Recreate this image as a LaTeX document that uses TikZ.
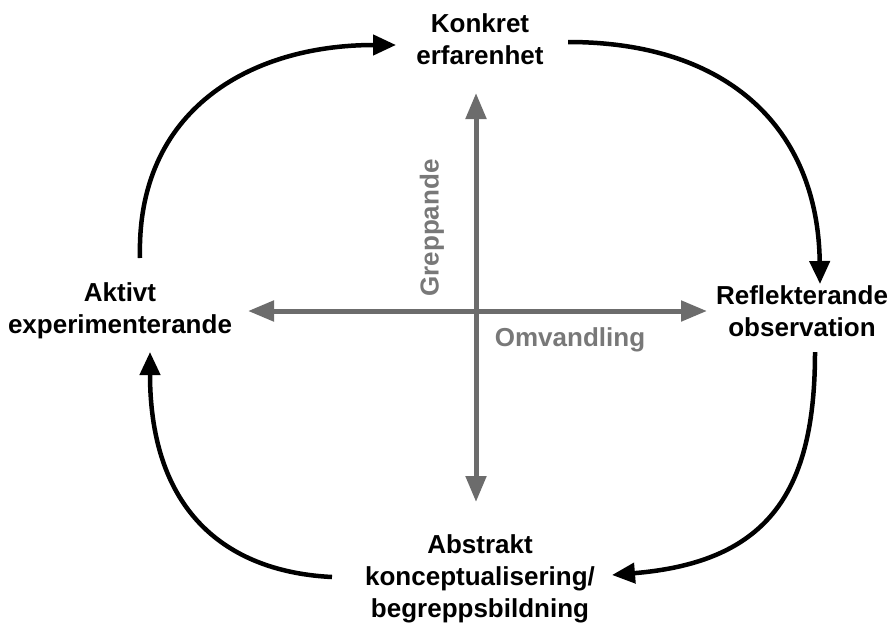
\documentclass[tikz,border=0pt]{standalone}
\usepackage{fontspec}
\setmainfont{Liberation Sans}
\usetikzlibrary{arrows.meta}
\definecolor{axisgray}{RGB}{108,108,108}
\definecolor{textgray}{RGB}{120,120,120}
\tikzset{
  lbl/.style={font=\fontsize{26}{32}\selectfont\bfseries, align=center, inner sep=0pt, text=black},
  glbl/.style={font=\fontsize{26}{32}\selectfont\bfseries, inner sep=0pt, text=textgray},
  axis/.style={draw=axisgray, line width=5pt, {Triangle[length=26pt,width=20pt]}-{Triangle[length=26pt,width=20pt]}},
  cyc/.style={draw=black, line width=4.5pt, -{Triangle[length=23pt,width=20pt]}}
}
\begin{document}
\begin{tikzpicture}[x=1pt,y=-1pt]
\useasboundingbox (0,0) rectangle (893,624);
% labels
\node[lbl] (ke) at (480,39) {Konkret\\erfarenhet};
\node[lbl] (ae) at (120,311) {Aktivt\\experimenterande};
\node[lbl] (ro) at (802,311) {Reflekterande\\observation};
\node[lbl] (ak) at (480,579) {Abstrakt\\konceptualisering/\\begreppsbildning};
\node[glbl, rotate=90] (gr) at (432,228) {Greppande};
\node[glbl] (om) at (570,340) {Omvandling};
% axes
\coordinate (vt) at (476,93);
\coordinate (vb) at (476,502);
\coordinate (hl) at (248,311);
\coordinate (hr) at (707,311);
\draw[axis] (vb) -- (vt);
\draw[axis] (hl) -- (hr);
% cycle arrows
\coordinate (a1s) at (140,258);
\coordinate (a1e) at (396,45);
\coordinate (a2s) at (568,42);
\coordinate (a2e) at (820,284);
\coordinate (a3s) at (815,352);
\coordinate (a3e) at (612,575);
\coordinate (a4s) at (332,577);
\coordinate (a4e) at (150,352);
\draw[cyc] (a1s) .. controls (136,110) and (250,45) .. (a1e);
\draw[cyc] (a2s) .. controls (730,42) and (818,130) .. (a2e);
\draw[cyc] (a3s) .. controls (815,490) and (770,562) .. (a3e);
\draw[cyc] (a4s) .. controls (230,572) and (150,515) .. (a4e);
\end{tikzpicture}
\end{document}
